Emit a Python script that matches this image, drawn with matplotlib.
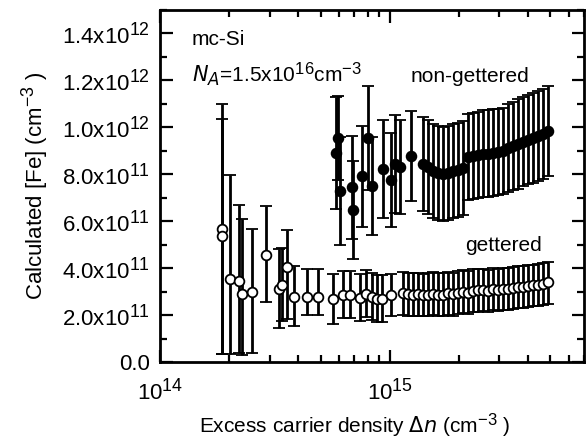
import matplotlib
matplotlib.use("Agg")
import matplotlib.pyplot as plt
import numpy as np
from matplotlib.ticker import FixedLocator, LogLocator, NullFormatter, MultipleLocator
try:
    import matplotlib._mathtext as _mt
    _mt.SHRINK_FACTOR = 0.8
except Exception:
    pass

plt.rcParams['font.family'] = ['Liberation Sans', 'DejaVu Sans']
plt.rcParams['mathtext.default'] = 'regular'

# ---------------- data (x in cm^-3, y in cm^-3) ----------------
# gettered (open circles)
get_x = [1.86e14, 1.86e14, 2.01e14, 2.21e14, 2.27e14, 2.51e14, 2.89e14, 3.29e14, 3.40e14,
         3.57e14, 3.82e14, 4.36e14, 4.86e14, 5.65e14, 6.25e14, 6.70e14, 7.41e14, 7.86e14,
         8.35e14, 8.78e14, 9.23e14, 1.01e15,
         1.139e15, 1.198e15, 1.259e15, 1.323e15, 1.392e15, 1.463e15, 1.538e15, 1.617e15,
         1.700e15, 1.787e15, 1.879e15, 1.975e15, 2.077e15, 2.183e15, 2.295e15, 2.413e15,
         2.537e15, 2.667e15, 2.804e15, 2.948e15, 3.099e15, 3.258e15, 3.425e15, 3.601e15,
         3.786e15, 3.981e15, 4.185e15, 4.400e15, 4.626e15, 4.864e15]
get_y = [5.65e11, 5.35e11, 3.55e11, 3.47e11, 2.91e11, 3.00e11, 4.54e11, 3.13e11, 3.30e11,
         4.03e11, 2.75e11, 2.78e11, 2.78e11, 2.70e11, 2.87e11, 2.87e11, 2.74e11, 2.91e11,
         2.78e11, 2.70e11, 2.70e11, 2.87e11,
         2.92e11, 2.88e11, 2.85e11, 2.88e11, 2.84e11, 2.86e11, 2.90e11, 2.87e11,
         2.85e11, 2.92e11, 2.88e11, 2.95e11, 2.98e11, 2.96e11, 3.02e11, 3.05e11,
         3.08e11, 3.04e11, 3.10e11, 3.08e11, 3.12e11, 3.10e11, 3.15e11, 3.18e11,
         3.21e11, 3.24e11, 3.27e11, 3.30e11, 3.34e11, 3.42e11]
get_err_lo = [5.30e11, 5.00e11, 3.20e11, 3.10e11, 2.60e11, 2.60e11, 2.00e11, 1.70e11, 1.55e11,
              2.20e11, 1.20e11, 0.77e11, 0.77e11, 1.07e11, 1.00e11, 1.00e11, 1.00e11, 1.00e11,
              1.00e11, 1.00e11, 1.00e11, 0.90e11,
              0.90e11, 0.90e11, 0.90e11, 0.90e11, 0.90e11, 0.90e11, 0.90e11, 0.90e11,
              0.90e11, 0.90e11, 0.90e11, 0.90e11, 0.90e11, 0.90e11, 0.90e11, 0.90e11,
              0.90e11, 0.90e11, 0.90e11, 0.90e11, 0.90e11, 0.90e11, 0.90e11, 0.90e11,
              0.90e11, 0.90e11, 0.90e11, 0.92e11, 0.92e11, 0.94e11]
get_err_hi = [5.35e11, 5.00e11, 4.40e11, 3.20e11, 3.20e11, 2.65e11, 2.10e11, 1.70e11, 1.55e11,
              1.60e11, 1.35e11, 1.20e11, 1.20e11, 1.07e11, 1.00e11, 1.00e11, 1.00e11, 1.00e11,
              1.00e11, 1.00e11, 1.00e11, 0.90e11,
              0.93e11, 0.93e11, 0.93e11, 0.93e11, 0.93e11, 0.93e11, 0.93e11, 0.93e11,
              0.93e11, 0.93e11, 0.93e11, 0.93e11, 0.93e11, 0.93e11, 0.93e11, 0.93e11,
              0.90e11, 0.90e11, 0.90e11, 0.90e11, 0.90e11, 0.90e11, 0.90e11, 0.90e11,
              0.88e11, 0.88e11, 0.88e11, 0.87e11, 0.87e11, 0.86e11]

# non-gettered (filled circles)
ng_x = [5.82e14, 5.94e14, 6.06e14, 6.84e14, 6.91e14, 7.55e14, 8.02e14, 8.36e14, 9.32e14,
        1.010e15, 1.051e15, 1.105e15, 1.234e15,
        1.392e15, 1.463e15, 1.538e15, 1.617e15, 1.700e15, 1.787e15, 1.879e15, 1.975e15,
        2.077e15, 2.183e15, 2.295e15, 2.413e15, 2.537e15, 2.667e15, 2.804e15, 2.948e15,
        3.099e15, 3.258e15, 3.425e15, 3.601e15, 3.786e15, 3.981e15, 4.185e15, 4.400e15,
        4.626e15, 4.864e15]
ng_y = [8.91e11, 9.55e11, 7.28e11, 7.45e11, 6.47e11, 7.92e11, 9.55e11, 7.50e11, 8.22e11,
        7.75e11, 8.44e11, 8.31e11, 8.78e11,
        8.44e11, 8.31e11, 8.14e11, 8.05e11, 8.01e11, 8.05e11, 8.14e11, 8.18e11,
        8.27e11, 8.74e11, 8.78e11, 8.82e11, 8.87e11, 8.87e11, 8.91e11, 8.95e11,
        8.99e11, 9.12e11, 9.21e11, 9.29e11, 9.38e11, 9.47e11, 9.55e11, 9.64e11,
        9.72e11, 9.85e11]
ng_err = [2.40e11, 1.80e11, 2.30e11, 2.20e11, 2.10e11, 2.15e11, 2.20e11, 2.10e11, 2.10e11,
          2.00e11, 2.10e11, 2.00e11, 1.93e11,
          2.00e11, 2.00e11, 2.00e11, 2.00e11, 2.00e11, 2.00e11, 2.00e11, 2.00e11,
          2.00e11, 1.82e11, 1.82e11, 1.82e11, 1.85e11, 1.85e11, 1.85e11, 1.85e11,
          1.85e11, 1.88e11, 1.88e11, 1.90e11, 1.90e11, 1.90e11, 1.92e11, 1.92e11,
          1.93e11, 1.93e11]

y_ticks = [0.0, 2e11, 4e11, 6e11, 8e11, 1.0e12, 1.2e12, 1.4e12]
y_ticklabels = ['0.0', r'2.0x10$^{11}$', r'4.0x10$^{11}$', r'6.0x10$^{11}$', r'8.0x10$^{11}$',
                r'1.0x10$^{12}$', r'1.2x10$^{12}$', r'1.4x10$^{12}$']
x_ticks = [1e14, 1e15]
x_ticklabels = [r'10$^{14}$', r'10$^{15}$']

# ---------------- figure ----------------
fig = plt.figure(figsize=(5.86, 4.45), dpi=100)
ax = fig.add_axes([160/586, 1 - 362/445, (584-160)/586, (362-10)/445])

ax.set_xscale('log')
ax.set_xlim(1e14, 7e15)
ax.set_ylim(0, 1.5e12)

ax.errorbar(get_x, get_y, yerr=[get_err_lo, get_err_hi], fmt='o', color='black',
            mfc='white', mec='black', ms=7, mew=1.3, ecolor='black', elinewidth=2.0,
            capsize=4.5, capthick=2.0, zorder=3)
ax.errorbar(ng_x, ng_y, yerr=ng_err, fmt='o', color='black',
            mfc='black', mec='black', ms=7, mew=1.3, ecolor='black', elinewidth=2.0,
            capsize=4.5, capthick=2.0, zorder=3)

ax.yaxis.set_major_locator(FixedLocator(y_ticks))
ax.set_yticklabels(y_ticklabels)
ax.yaxis.set_minor_locator(MultipleLocator(1e11))
ax.xaxis.set_major_locator(FixedLocator(x_ticks))
ax.set_xticklabels(x_ticklabels)
ax.xaxis.set_minor_locator(LogLocator(base=10, subs=np.arange(2, 10)))
ax.xaxis.set_minor_formatter(NullFormatter())

ax.tick_params(which='both', direction='in', top=True, right=True, width=1.6)
ax.tick_params(which='major', length=9, labelsize=16)
ax.tick_params(axis='y', which='major', pad=7)
ax.tick_params(axis='x', which='major', pad=12)
ax.tick_params(which='minor', length=5)
for s in ax.spines.values():
    s.set_linewidth(2.0)

ax.set_ylabel(r'Calculated [Fe] (cm$^{-3}$ )', fontsize=16, labelpad=8)
ax.set_xlabel(r'Excess carrier density $\mathit{\Delta n}$ (cm$^{-3}$ )', fontsize=15)
ax.xaxis.set_label_coords(0.46, -0.14)

ax.text(0.075, 0.915, 'mc-Si', transform=ax.transAxes, fontsize=15, va='center')
ax.text(0.075, 0.815, r'$\mathit{N_A}$=1.5x10$^{16}$cm$^{-3}$', transform=ax.transAxes,
        fontsize=15, va='center')
ax.text(0.59, 0.81, 'non-gettered', transform=ax.transAxes, fontsize=15, va='center')
ax.text(0.72, 0.332, 'gettered', transform=ax.transAxes, fontsize=15, va='center')

fig.savefig('out.png', dpi=100)
